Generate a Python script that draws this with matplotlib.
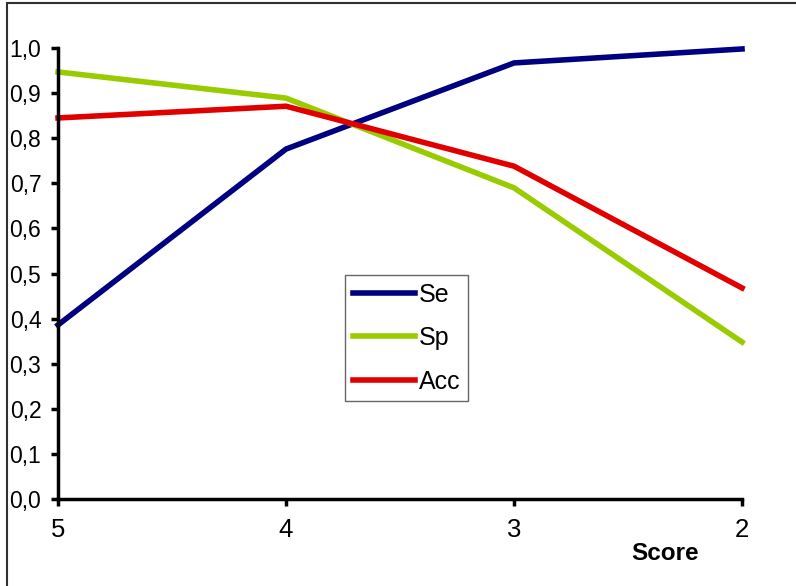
import matplotlib
matplotlib.use("Agg")
import matplotlib.pyplot as plt
from matplotlib.patches import Rectangle

plt.rcParams['font.family'] = ['Liberation Sans', 'DejaVu Sans']

# Wyniki dla kolejnych progów score
score = [5, 4, 3, 2]
se = [0.386, 0.776, 0.967, 0.998]
sp = [0.947, 0.889, 0.690, 0.348]
acc = [0.845, 0.871, 0.738, 0.468]
yticks = [0.0, 0.1, 0.2, 0.3, 0.4, 0.5, 0.6, 0.7, 0.8, 0.9, 1.0]

fig = plt.figure(figsize=(7.96, 5.86), dpi=100)
ax = fig.add_axes([0.0729, 0.1485, 0.8593, 0.7695])

lw = 4.0
ax.plot(score, se, color='#000080', lw=lw, label='Se', clip_on=False)
ax.plot(score, sp, color='#99cc00', lw=lw, label='Sp', clip_on=False)
ax.plot(score, acc, color='#e00000', lw=lw, label='Acc', clip_on=False)

ax.set_xlim(5, 2)
ax.set_ylim(0, 1.0)
ax.set_xticks(score)
ax.set_xticklabels([str(s) for s in score], fontsize=18.5)
ax.set_yticks(yticks)
ax.set_yticklabels([f'{v:.1f}'.replace('.', ',') for v in yticks], fontsize=16.5)

for s in ['top', 'right']:
    ax.spines[s].set_visible(False)
for s in ['left', 'bottom']:
    ax.spines[s].set_linewidth(2.5)
ax.tick_params(direction='out', length=5, width=2.5)
ax.tick_params(axis='x', pad=9)
ax.tick_params(axis='y', pad=7)

leg = ax.legend(loc='upper left', bbox_to_anchor=(0.4196, 0.4967), borderaxespad=0,
                fancybox=False, frameon=True, fontsize=18, handlelength=2.5,
                handletextpad=0.15, labelspacing=0.78, borderpad=0.3)
leg.get_frame().set_edgecolor('#404040')
leg.get_frame().set_linewidth(1.0)

fig.text(665 / 796, 1 - 553 / 586, 'Score', fontsize=17.5, fontweight='bold',
         ha='center', va='center')

# ramka wykresu
fig.patches.append(Rectangle((7 / 796, -0.1), 1.2, 1 - 3 / 586 + 0.1, transform=fig.transFigure,
                             fill=False, edgecolor='#303030', lw=1.5))

fig.savefig('out.png', dpi=100)
